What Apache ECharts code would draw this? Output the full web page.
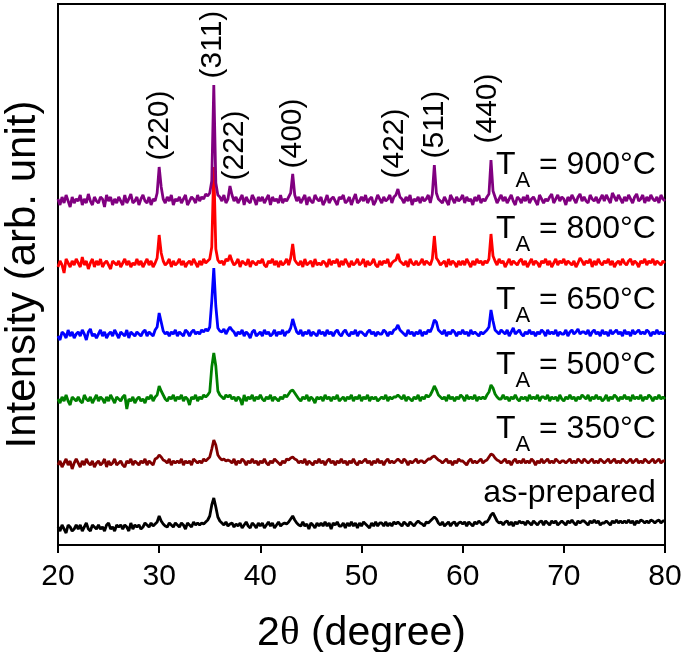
<!DOCTYPE html>
<html><head><meta charset="utf-8">
<script src="https://cdn.jsdelivr.net/npm/echarts@6/dist/echarts.min.js"></script>
<style>html,body{margin:0;padding:0;background:#fff}#c{width:685px;height:652px}</style>
</head><body><div id="c"></div>
<script>
// 2θ scan grid (degree)
const twoTheta = [
20,20.2,20.4,20.6,20.8,21,21.2,21.4,21.6,21.8,
22,22.2,22.4,22.6,22.8,23,23.2,23.4,23.6,23.8,
24,24.2,24.4,24.6,24.8,25,25.2,25.4,25.6,25.8,
26,26.2,26.4,26.6,26.8,27,27.2,27.4,27.6,27.8,
28,28.2,28.4,28.6,28.8,29,29.2,29.4,29.6,29.8,
30,30.2,30.4,30.6,30.8,31,31.2,31.4,31.6,31.8,
32,32.2,32.4,32.6,32.8,33,33.2,33.4,33.6,33.8,
34,34.2,34.4,34.6,34.8,35,35.2,35.4,35.6,35.8,
36,36.2,36.4,36.6,36.8,37,37.2,37.4,37.6,37.8,
38,38.2,38.4,38.6,38.8,39,39.2,39.4,39.6,39.8,
40,40.2,40.4,40.6,40.8,41,41.2,41.4,41.6,41.8,
42,42.2,42.4,42.6,42.8,43,43.2,43.4,43.6,43.8,
44,44.2,44.4,44.6,44.8,45,45.2,45.4,45.6,45.8,
46,46.2,46.4,46.6,46.8,47,47.2,47.4,47.6,47.8,
48,48.2,48.4,48.6,48.8,49,49.2,49.4,49.6,49.8,
50,50.2,50.4,50.6,50.8,51,51.2,51.4,51.6,51.8,
52,52.2,52.4,52.6,52.8,53,53.2,53.4,53.6,53.8,
54,54.2,54.4,54.6,54.8,55,55.2,55.4,55.6,55.8,
56,56.2,56.4,56.6,56.8,57,57.2,57.4,57.6,57.8,
58,58.2,58.4,58.6,58.8,59,59.2,59.4,59.6,59.8,
60,60.2,60.4,60.6,60.8,61,61.2,61.4,61.6,61.8,
62,62.2,62.4,62.6,62.8,63,63.2,63.4,63.6,63.8,
64,64.2,64.4,64.6,64.8,65,65.2,65.4,65.6,65.8,
66,66.2,66.4,66.6,66.8,67,67.2,67.4,67.6,67.8,
68,68.2,68.4,68.6,68.8,69,69.2,69.4,69.6,69.8,
70,70.2,70.4,70.6,70.8,71,71.2,71.4,71.6,71.8,
72,72.2,72.4,72.6,72.8,73,73.2,73.4,73.6,73.8,
74,74.2,74.4,74.6,74.8,75,75.2,75.4,75.6,75.8,
76,76.2,76.4,76.6,76.8,77,77.2,77.4,77.6,77.8,
78,78.2,78.4,78.6,78.8,79,79.2,79.4,79.6,79.8,
80];

// Intensities (arb. unit)
const asPrepared = [
12,8,14,10,6,14,12,8,10,14, 10,14,8,12,16,10,8,14,12,10, 14,10,12,8,14,16,10,12,8,14,
12,14,10,14,12,8,16,10,14,12, 14,10,12,16,14,12,16,13,15,17, 23,18,15,13,12,16,14,12,16,14,
12,16,14,10,16,14,12,17,14,16, 14,16,15,17,19,23,34,41,32,22, 18,16,14,17,13,15,16,12,15,13,
16,11,14,17,13,11,16,14,11,16, 13,16,11,14,17,13,16,11,14,17, 13,15,16,15,17,20,23,19,16,14,
13,17,13,15,10,16,14,11,16,13, 16,13,17,13,16,10,16,14,17,13, 13,16,11,16,13,17,13,16,11,16,
13,17,15,13,11,16,13,17,13,16, 16,13,17,13,16,13,17,15,17,15, 13,17,15,13,17,15,13,16,18,16,
15,13,17,16,18,20,22,20,16,14, 17,13,15,17,13,16,17,13,16,17, 15,17,13,17,15,13,17,15,18,16,
14,17,17,20,24,26,22,18,16,17, 14,17,18,14,17,13,17,15,18,16, 17,14,18,16,14,18,16,14,17,18,
14,18,16,14,18,16,18,14,16,18, 16,14,18,16,19,16,14,18,16,18, 18,16,14,18,16,19,16,18,14,16,
16,18,16,14,18,16,19,16,18,16, 18,16,19,16,18,14,18,16,19,18, 16,18,16,19,18,16,18,19,16,18,
18];
const ta350 = [
10,14,8,12,16,10,14,6,12,16, 12,8,14,10,16,12,10,14,8,12, 14,10,12,16,8,14,10,12,16,10,
12,14,10,8,14,12,16,10,14,12, 10,14,12,16,10,14,12,10,16,17, 20,18,15,14,12,16,10,14,12,14,
12,16,10,14,12,14,10,16,14,12, 14,12,16,14,16,18,26,35,30,20, 17,15,16,14,15,14,12,16,10,14,
12,16,14,10,14,12,16,12,14,10, 14,12,16,12,10,14,12,16,14,12, 10,14,12,16,15,17,18,16,15,12,
14,12,16,10,14,12,10,14,12,16, 12,14,10,14,16,12,14,10,14,12, 16,12,14,10,14,12,16,12,10,14,
12,14,16,12,14,10,14,12,16,12, 14,10,14,16,12,14,12,14,16,14, 12,16,14,10,14,12,14,16,12,14,
14,12,14,16,16,18,19,17,15,14, 12,14,16,12,14,10,14,12,16,14, 14,12,10,14,16,12,14,12,14,16,
12,14,15,18,21,20,17,15,14,12, 14,16,12,14,10,14,16,12,14,12, 16,12,14,12,16,14,10,14,12,16,
12,14,16,12,14,12,16,14,12,14, 14,12,14,16,12,14,12,16,14,12, 16,14,12,14,16,12,14,12,16,14,
12,14,16,12,14,16,12,14,12,16, 14,12,14,16,12,14,16,12,14,12, 16,14,12,14,16,12,14,16,12,14,
14];
const ta500 = [
12,8,14,10,16,10,6,14,12,10, 14,10,8,16,12,10,14,8,12,16, 10,14,12,8,14,10,16,12,8,14,
12,10,14,16,2,12,10,14,8,12, 14,10,12,8,14,12,16,10,14,16, 25,20,16,12,10,14,12,16,10,14,
12,16,10,14,12,6,14,12,16,10, 14,12,16,14,16,19,44,58,45,20, 16,14,12,16,14,16,12,14,10,14,
12,6,16,10,14,12,16,10,14,12, 16,12,10,14,12,16,10,14,12,10, 14,12,16,14,17,20,21,18,15,12,
10,14,12,16,10,14,12,8,14,12, 14,10,16,12,14,10,14,12,16,10, 12,14,10,14,12,16,10,14,12,16,
10,14,12,16,10,14,12,14,10,12, 14,12,16,10,14,12,14,14,16,14, 12,16,10,14,12,10,14,12,16,10,
14,12,16,14,16,20,25,21,16,14, 12,14,10,16,12,14,10,14,12,16, 14,10,16,12,14,12,16,10,14,12,
14,12,16,19,26,23,17,14,12,12, 16,12,14,10,14,12,16,12,10,14, 12,14,10,16,12,14,12,16,10,14,
14,12,16,10,14,12,14,10,16,12, 10,14,12,16,12,14,10,14,12,16, 14,12,16,10,14,12,16,12,14,10,
12,16,10,14,12,16,14,10,14,12, 16,12,14,10,16,12,14,12,16,10, 14,12,16,14,10,14,12,16,12,14,
12];
const ta650 = [
10,6,14,12,8,16,10,14,8,12, 14,10,16,12,6,14,17,10,12,8, 12,16,10,14,8,12,14,10,16,12,
8,14,12,10,16,8,14,12,10,14, 12,10,14,16,10,14,12,10,16,19, 33,24,15,12,14,10,14,12,16,10,
14,12,10,16,14,10,14,16,12,14, 12,16,14,17,15,19,45,78,40,18, 15,14,17,12,16,19,16,14,10,14,
12,16,10,14,12,8,14,16,10,12, 14,10,16,12,14,10,12,16,10,14, 12,16,10,14,14,18,27,20,14,12,
16,10,14,12,16,10,14,12,10,16, 12,14,10,16,12,14,10,14,16,12, 10,14,16,12,10,14,12,16,10,14,
14,12,10,14,16,12,14,10,14,12, 12,16,14,10,14,12,16,17,21,16, 14,12,10,16,12,14,10,14,12,16,
10,14,12,16,14,19,26,24,16,14, 12,16,10,14,12,16,14,10,14,12, 16,12,14,10,16,12,14,12,10,14,
12,14,16,19,36,25,16,14,12,16, 14,12,16,10,14,18,12,14,16,12, 10,14,12,16,12,14,10,14,12,16,
14,10,16,12,14,12,16,10,14,12, 12,16,10,14,16,12,14,17,12,14, 14,12,16,10,14,16,12,14,10,16,
12,14,10,16,12,14,16,12,14,10, 16,12,14,10,16,12,14,16,12,14, 12,16,14,10,14,12,16,12,14,12,
14];
const ta800 = [
8,14,10,2,16,12,8,14,10,16, 12,8,18,10,14,6,12,16,8,14, 10,16,8,12,14,10,6,14,12,10,
14,8,12,16,10,14,8,12,10,16, 10,14,8,12,16,10,14,8,12,17, 40,22,14,10,12,16,8,14,10,12,
16,10,14,8,12,14,10,16,12,8, 14,10,16,12,14,16,28,108,26,15, 12,14,10,16,14,20,14,10,12,16,
8,14,12,10,16,8,14,12,10,14, 12,16,10,8,14,12,16,10,14,8, 14,10,12,16,10,17,31,15,12,10,
14,8,16,10,12,14,8,16,10,12, 10,14,12,8,16,10,14,12,16,8, 14,10,16,12,8,14,10,12,16,10,
12,16,8,14,10,12,16,10,8,14, 10,14,12,16,8,12,14,15,21,14, 12,10,14,8,16,12,10,14,10,12,
16,10,14,12,10,16,39,17,14,10, 12,14,8,16,10,14,12,8,14,10, 14,10,16,12,8,14,10,16,12,14,
10,14,12,16,41,19,14,10,16,12, 14,8,12,16,10,14,12,10,14,16, 10,14,8,12,16,10,14,12,8,14,
12,16,10,14,8,12,16,10,14,12, 16,10,14,12,10,14,8,12,17,14, 10,14,12,16,8,14,10,16,12,10,
14,12,16,10,14,8,12,14,10,16, 12,10,14,16,10,14,12,8,14,12, 16,10,14,12,16,10,14,12,10,14,
12];
const ta900 = [
12,6,14,8,16,10,4,14,8,12, 10,16,6,12,8,17,10,6,14,10, 8,14,12,4,16,10,14,6,12,8,
14,10,6,16,8,12,17,8,10,14, 6,12,16,10,8,14,6,12,10,18, 44,24,12,8,14,10,16,6,12,10,
14,8,12,16,6,10,14,12,8,16, 10,14,12,17,15,18,30,126,28,16, 14,10,16,8,12,25,16,10,14,8,
12,16,6,14,10,8,16,12,6,14, 10,14,8,12,16,6,14,10,12,8, 16,8,12,10,14,18,37,16,10,14,
8,12,16,6,14,10,8,16,12,10, 14,6,10,16,8,12,14,10,6,14, 12,16,8,10,14,6,12,17,8,10,
14,10,16,8,12,14,6,10,16,12, 8,14,10,12,16,8,14,16,22,14, 12,8,14,10,16,6,12,10,14,8,
14,10,12,16,8,17,46,18,12,10, 8,14,10,6,16,12,8,14,10,12, 16,8,14,10,12,6,14,10,16,8,
12,10,14,17,51,20,14,8,12,16, 10,14,8,12,16,10,6,14,12,8, 14,10,16,8,12,14,10,6,16,12,
8,12,10,14,17,8,12,16,10,14, 12,6,14,10,16,12,8,14,17,10, 14,10,8,16,12,10,14,8,12,16,
10,16,12,8,18,14,10,16,12,8, 14,10,16,12,8,14,17,10,12,16, 8,14,10,16,12,10,14,8,16,12,
10];

// vertical stacking offsets of the patterns (arb. unit)
const patternNames = ['as-prepared', '350', '500', '650', '800', '900'];
const patternOffsets = [6, 70, 134, 199, 270, 334];
const patternColors = ['#000000', '#800000', '#008000', '#0000ff', '#ff0000', '#800080'];
const patternData = [asPrepared, ta350, ta500, ta650, ta800, ta900];

// Miller indices of reflections
const peakNames = ['(220)', '(311)', '(222)', '(400)', '(422)', '(511)', '(440)'];
const peakPositions = [30, 35.4, 37, 43.2, 53.6, 57.2, 62.8];

// x tick labels
const xTicks = [20, 30, 40, 50, 60, 70, 80];

// ---- layout (not data) ----
const peakLabelShift = [0.1, -0.1, 0.5, 0, -0.3, 0, -0.3];
const peakLabelGap = [6, 6, 5, 5, 10, 6, 16];
const sampleLabelX = 79.15;
const sampleLabelLift = 62;
const FONT = "'Liberation Sans', Arial, Helvetica, sans-serif";

const chart = echarts.init(document.getElementById('c'), null, {renderer: 'canvas'});

const lineSeries = patternData.map((arr, k) => ({
  type: 'line',
  name: patternNames[k],
  data: twoTheta.map((x, i) => [x, patternOffsets[k] + arr[i]]),
  showSymbol: false,
  symbol: 'none',
  silent: true,
  lineStyle: {color: patternColors[k], width: 2.8},
  itemStyle: {color: patternColors[k]},
  z: 2 + k
}));

const topIdx = patternData.length - 1;
const peakLabelSeries = {
  type: 'scatter',
  silent: true,
  symbolSize: 1,
  itemStyle: {color: 'rgba(0,0,0,0)', opacity: 1},
  z: 10,
  data: peakNames.map((n, j) => {
    const idx = twoTheta.indexOf(peakPositions[j]);
    const yTop = patternOffsets[topIdx] + patternData[topIdx][idx];
    return {name: n, value: [peakPositions[j] + peakLabelShift[j], yTop + peakLabelGap[j]]};
  }),
  label: {
    show: true, formatter: '{b}', position: 'top', distance: 0,
    rotate: 90, align: 'left', verticalAlign: 'middle', opacity: 1,
    fontSize: 30, fontFamily: FONT, color: '#000'
  }
};

const sampleLabelSeries = {
  type: 'scatter',
  silent: true,
  symbolSize: 1,
  itemStyle: {color: 'rgba(0,0,0,0)', opacity: 1},
  z: 10,
  data: patternNames.map((n, k) => ({name: n, value: [sampleLabelX, patternOffsets[k] + sampleLabelLift]})),
  label: {
    show: true, position: 'left', distance: 0, align: 'right', verticalAlign: 'top', opacity: 1,
    formatter: p => p.name === 'as-prepared' ? '{t|as-prepared}' : '{t|T}{s|A}{t| = ' + p.name + '°C}',
    rich: {
      t: {fontSize: 32, lineHeight: 34, fontFamily: FONT, color: '#000', verticalAlign: 'top'},
      s: {fontSize: 22, lineHeight: 22, fontFamily: FONT, color: '#000', verticalAlign: 'top', padding: [21, 0, 0, 0]}
    }
  }
};

chart.setOption({
  animation: false,
  backgroundColor: '#fff',
  grid: {left: 58, right: 20, top: 4, bottom: 107, outerBoundsMode: 'none', containLabel: false,
         show: true, borderColor: '#000', borderWidth: 2, backgroundColor: 'transparent'},
  xAxis: {
    type: 'value', min: xTicks[0], max: xTicks[xTicks.length - 1], interval: 10,
    axisLine: {show: true, lineStyle: {color: '#000', width: 2}},
    axisTick: {show: true, inside: false, length: 8, lineStyle: {color: '#000', width: 2}},
    axisLabel: {fontSize: 30, fontFamily: FONT, color: '#000', margin: 17},
    splitLine: {show: false},
    name: '{n|2}{th|θ}{n| (degree)}', nameLocation: 'middle', nameGap: 68,
    nameTextStyle: {
      rich: {
        n: {fontSize: 41, fontFamily: FONT, color: '#000'},
        th: {fontSize: 41, fontFamily: "'Liberation Serif', 'Times New Roman', serif", color: '#000'}
      }
    }
  },
  yAxis: {
    type: 'value', min: 0, max: 541,
    axisLine: {show: false}, axisTick: {show: false}, axisLabel: {show: false}, splitLine: {show: false},
    name: 'Intensity (arb. unit)', nameLocation: 'middle', nameRotate: 90, nameGap: 14,
    nameTextStyle: {fontSize: 42, fontFamily: FONT, color: '#000'}
  },
  series: [...lineSeries, peakLabelSeries, sampleLabelSeries]
});
</script>
</body></html>
